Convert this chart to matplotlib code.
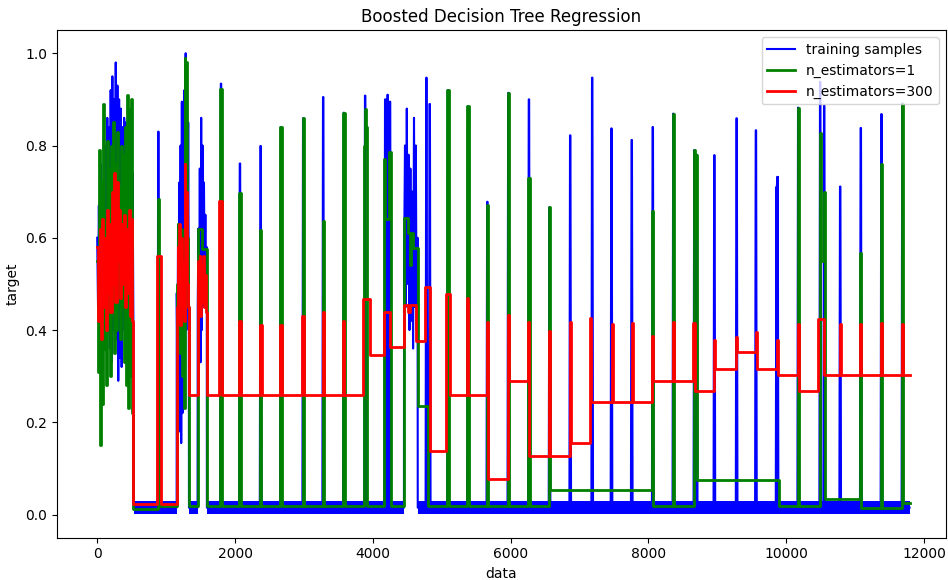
import matplotlib.pyplot as plt
import numpy as np

# ---------------------------------------------------------------------------
# values
# ---------------------------------------------------------------------------

# noisy stretches of the training samples (evenly spaced over each span)
blue_dense_start = [0, 1155, 1459, 4454]
blue_dense_end = [526, 1330, 1590, 4650]
B1 = [0.60, 0.45, 0.67, 0.48, 0.76, 0.42, 0.72, 0.40, 0.82, 0.38, 0.80,
      0.45, 0.86, 0.40, 0.84, 0.36, 0.92, 0.33, 0.95, 0.40, 0.90, 0.35,
      0.98, 0.38, 0.93, 0.29, 0.90, 0.34, 0.88, 0.32, 0.84, 0.40, 0.86,
      0.38, 0.85, 0.42, 0.80, 0.35, 0.82, 0.40, 0.76, 0.36, 0.74, 0.40]
B2 = [0.48, 0.30, 0.62, 0.25, 0.72, 0.18, 0.80, 0.155, 0.895, 0.22,
      0.85, 0.30, 0.92, 0.35, 1.0, 0.40, 0.95, 0.45, 0.85, 0.42]
B3 = [0.45, 0.62, 0.38, 0.75, 0.33, 0.86, 0.40, 0.80, 0.45, 0.72,
      0.50, 0.65, 0.48, 0.58]
B4 = [0.55, 0.80, 0.45, 0.88, 0.50, 0.78, 0.40, 0.75, 0.42, 0.70,
      0.36, 0.86, 0.45, 0.80, 0.40, 0.60]
blue_dense_vals = [B1, B2, B3, B4]

# isolated spikes of the training samples
blue_spike_x = [888, 1797, 2072, 2372, 2667, 2990, 3280, 3580, 3889, 4180,
                4215, 4250, 4778, 4826, 5092, 5382, 5662, 5967, 6266, 6565,
                6865, 7184, 7464, 7758, 8063, 8362, 8667, 8700, 8957, 9280,
                9560, 9860, 9874, 10174, 10493, 10551, 10783, 11082, 11382,
                11686]
blue_spike_y = [0.83, 0.934, 0.761, 0.799, 0.84, 0.859, 0.905, 0.871, 0.908,
                0.90, 0.91, 0.895, 0.947, 0.89, 0.92, 0.885, 0.678, 0.914,
                0.90, 0.666, 0.822, 0.947, 0.837, 0.812, 0.84, 0.869, 0.79,
                0.78, 0.779, 0.859, 0.833, 0.71, 0.732, 0.882, 0.938, 0.886,
                0.711, 0.838, 0.868, 0.891]
blue_base = 0.015

# low noisy floor of the training samples
band_start = [530, 1330, 1590, 4650]
band_end = [1155, 1459, 4454, 11792]
band_lo = 0.001
band_hi = 0.030

# n_estimators=1 fit (step function)
G1 = [0.55, 0.31, 0.79, 0.15, 0.72, 0.24, 0.89, 0.36, 0.64, 0.28, 0.81,
      0.42, 0.75, 0.30, 0.80, 0.47, 0.85, 0.35, 0.76, 0.40, 0.83, 0.52,
      0.71, 0.38, 0.80, 0.45, 0.78, 0.33, 0.84, 0.28, 0.91, 0.23, 0.88,
      0.30, 0.90, 0.22]
G2 = [0.50, 0.63, 0.40, 0.58, 0.35, 0.62, 0.30, 0.55, 0.23, 0.99, 0.75,
      0.98, 0.60, 0.45]
green_edges = [0, 526, 878, 898, 1155, 1330, 1459, 1526, 1590, 1787, 1807,
               2062, 2082, 2362, 2382, 2657, 2677, 2980, 3000, 3270, 3290,
               3570, 3590, 3870, 3882, 3895, 3912, 4164, 4180, 4235, 4260,
               4454, 4512, 4536, 4560, 4584, 4655, 4800, 5082, 5102, 5372,
               5392, 5652, 5672, 5957, 5977, 6256, 6276, 6555, 6575, 8053,
               8073, 8352, 8372, 8660, 8678, 8690, 8705, 9888, 10164, 10184,
               10483, 10503, 10541, 10561, 11072, 11092, 11372, 11392, 11676,
               11696, 11792]
green_levels = [G1, 0.012, 0.683, 0.018, G2, 0.018, 0.62, 0.576, 0.018, 0.923,
                0.018, 0.698, 0.018, 0.617, 0.018, 0.84, 0.018, 0.859, 0.018,
                0.636, 0.018, 0.871, 0.018, 0.80, 0.88, 0.84, 0.018, 0.77,
                0.64, 0.786, 0.018, 0.643, 0.61, 0.54, 0.61, 0.578, 0.235,
                0.018, 0.92, 0.018, 0.885, 0.018, 0.67, 0.018, 0.914, 0.018,
                0.73, 0.018, 0.666, 0.053, 0.658, 0.018, 0.869, 0.018, 0.79,
                0.60, 0.78, 0.076, 0.018, 0.882, 0.018, 0.828, 0.55, 0.70,
                0.034, 0.566, 0.015, 0.76, 0.015, 0.891, 0.025]

# n_estimators=300 fit (step function)
R1 = [0.58, 0.42, 0.62, 0.38, 0.64, 0.45, 0.60, 0.40, 0.66, 0.48, 0.63,
      0.44, 0.70, 0.50, 0.74, 0.46, 0.72, 0.55, 0.66, 0.47, 0.63, 0.50,
      0.65, 0.45, 0.62, 0.48, 0.66, 0.43, 0.64, 0.42]
R2 = [0.45, 0.58, 0.42, 0.63, 0.41, 0.60, 0.44, 0.55, 0.42, 0.76, 0.62,
      0.70, 0.50, 0.45]
R3 = [0.55, 0.44, 0.56, 0.43, 0.54, 0.46, 0.56, 0.45, 0.52, 0.44]
red_edges = [0, 526, 872, 925, 1155, 1330, 1459, 1590, 1765, 1805, 2065,
             2080, 2370, 2385, 2660, 2675, 2975, 2995, 3270, 3295, 3565,
             3580, 3860, 3956, 4159, 4246, 4454, 4512, 4545, 4633, 4763,
             4836, 5058, 5116, 5360, 5385, 5650, 5665, 5955, 5975, 6255,
             6270, 6560, 6575, 6860, 6875, 7150, 7165, 7465, 7480, 7755,
             7770, 8050, 8065, 8355, 8370, 8650, 8670, 8950, 8965, 9270,
             9285, 9555, 9570, 9860, 9880, 10170, 10185, 10465, 10555,
             10775, 10790, 11075, 11090, 11375, 11390, 11680, 11700, 11792]
red_levels = [R1, 0.023, 0.56, 0.023, R2, 0.26, R3, 0.26, 0.68, 0.26, 0.42,
              0.26, 0.41, 0.26, 0.41, 0.26, 0.43, 0.26, 0.44, 0.26, 0.42,
              0.26, 0.467, 0.345, 0.44, 0.364, 0.455, 0.44, 0.455, 0.377,
              0.494, 0.138, 0.478, 0.26, 0.47, 0.26, 0.418, 0.078, 0.433,
              0.29, 0.418, 0.128, 0.397, 0.128, 0.418, 0.155, 0.426, 0.243,
              0.413, 0.243, 0.415, 0.243, 0.387, 0.29, 0.418, 0.29, 0.415,
              0.268, 0.379, 0.316, 0.386, 0.353, 0.395, 0.316, 0.379, 0.302,
              0.413, 0.268, 0.424, 0.302, 0.413, 0.302, 0.413, 0.302, 0.415,
              0.302, 0.413, 0.302]


def step_path(edges, levels):
    """Turn edges + levels (a level may be a list of evenly spread steps)
    into vertices of a step line."""
    xs, ys = [], []
    for x0, x1, lv in zip(edges[:-1], edges[1:], levels):
        vals = lv if isinstance(lv, list) else [lv]
        sub = np.linspace(x0, x1, len(vals) + 1)
        for i, v in enumerate(vals):
            xs += [sub[i], sub[i + 1]]
            ys += [v, v]
    return xs, ys


def blue_path():
    pts = []
    for x0, x1, vals in zip(blue_dense_start, blue_dense_end, blue_dense_vals):
        for x, v in zip(np.linspace(x0, x1, len(vals)), vals):
            pts.append((x, v))
    for x, p in zip(blue_spike_x, blue_spike_y):
        pts += [(x - 12, blue_base), (x - 3, p), (x + 3, p),
                (x + 12, blue_base)]
    # floor anchors sit just inside each floor stretch
    for s, e in zip(band_start, band_end):
        pts += [(s + 2, blue_base), (e - 2, blue_base)]
    pts.sort(key=lambda t: t[0])
    return [p[0] for p in pts], [p[1] for p in pts]


fig = plt.figure(figsize=(9.48, 5.8), dpi=100)
ax = fig.add_axes([0.060, 0.073, 0.938, 0.875])

bx, by = blue_path()
ax.plot(bx, by, c="b", lw=1.5, label="training samples")
for s, e in zip(band_start, band_end):
    ax.fill_between([s, e], band_lo, band_hi, color="b", lw=0)

gx, gy = step_path(green_edges, green_levels)
ax.plot(gx, gy, c="g", lw=2, label="n_estimators=1")

rx, ry = step_path(red_edges, red_levels)
ax.plot(rx, ry, c="r", lw=2, label="n_estimators=300")

ax.set_xlim(-585, 12320)
ax.set_ylim(-0.05, 1.05)
ax.set_xlabel("data")
ax.set_ylabel("target")
ax.set_title("Boosted Decision Tree Regression")
ax.legend(loc="upper right")

fig.savefig("out.png", dpi=100)
